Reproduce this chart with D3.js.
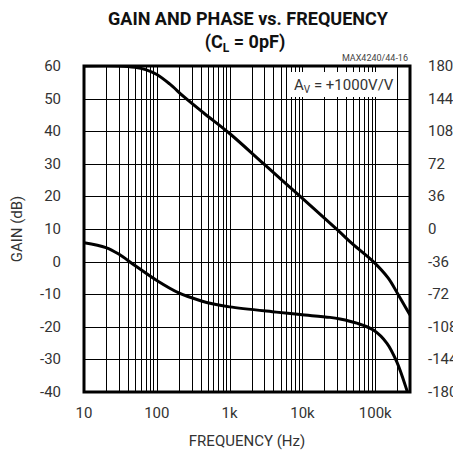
<!DOCTYPE html>
<html>
<head>
<meta charset="utf-8">
<script src="https://cdn.jsdelivr.net/npm/d3@7"></script>
<style>
    body { margin: 0; background: #fff; }
    svg { display: block; font-family: Roboto, "Liberation Sans", sans-serif; }
</style>
</head>
<body>
<svg id="chart" width="453" height="454"></svg>
<script>

//  Data

var gainFreq = [10, 30, 50, 70, 100, 150, 237, 445, 1000, 3000, 10000, 30000, 50000, 94000, 150000, 205000, 300000];
var gainDb   = [60, 60, 59.6, 58.9, 57.4, 54.5, 50.5, 45.5, 39.3, 29.8, 19.4, 9.8, 5.2, 0, -5, -10, -16.4];

var phaseFreq = [10, 20, 30, 50, 100, 200, 400, 600, 1000, 4370, 9270, 23900, 32800, 55700, 94200, 144000, 197000, 271000, 290000];
var phaseDeg  = [-15.1, -20.5, -27.7, -40.3, -56.9, -70.6, -79.2, -82.8, -86, -91.8, -94.5, -97.6, -99.4, -104, -111.6, -126, -146.5, -177.8, -185.4];

var freqTicks = [10, 100, 1000, 10000, 100000];
var freqLabels = ['10', '100', '1k', '10k', '100k'];
var gainTicks = [60, 50, 40, 30, 20, 10, 0, -10, -20, -30, -40];
var phaseTicks = [180, 144, 108, 72, 36, 0, -36, -72, -108, -144, -180];

var svg = d3.select('#chart');

var plot = { left: 84, right: 410, top: 66, bottom: 392 };

//  Scales

var scale = {
    freq: d3.scaleLog().domain([10, 300000]).range([plot.left, plot.right]),
    gain: d3.scaleLinear().domain([-40, 60]).range([plot.bottom, plot.top]),
    phase: d3.scaleLinear().domain([-180, 180]).range([plot.bottom, plot.top])
};

//  Grid: every 1..9 in each decade, every 10dB

var gridFreqs = [];
[10, 100, 1000, 10000, 100000].forEach(function(d) {
    for (var m = 1; m <= 9; m++) {
        if (d * m <= 300000) gridFreqs.push(d * m);
    }
});

var grid = svg.append('g').attr('stroke', '#000').attr('stroke-width', 1).attr('shape-rendering', 'crispEdges');

grid.selectAll('line.v')
    .data(gridFreqs)
    .enter().append('line')
    .attr('class', 'v')
    .attr('x1', function(d) { return Math.round(scale.freq(d)) + 0.5; })
    .attr('x2', function(d) { return Math.round(scale.freq(d)) + 0.5; })
    .attr('y1', plot.top)
    .attr('y2', plot.bottom);

grid.selectAll('line.h')
    .data(gainTicks)
    .enter().append('line')
    .attr('class', 'h')
    .attr('x1', plot.left)
    .attr('x2', plot.right)
    .attr('y1', function(d) { return Math.round(scale.gain(d)) + 0.5; })
    .attr('y2', function(d) { return Math.round(scale.gain(d)) + 0.5; });

//  Label box for the gain setting

svg.append('rect')
    .attr('x', 290).attr('y', 72)
    .attr('width', 104).attr('height', 25)
    .attr('fill', '#fff');

var av = svg.append('text')
    .attr('x', 294).attr('y', 90)
    .attr('font-size', 15)
    .attr('fill', '#333');
av.append('tspan').text('A');
av.append('tspan').attr('font-size', 10).attr('dy', 3).text('V');
av.append('tspan').attr('dy', -3).text(' = +1000V/V');

//  Curves

svg.append('clipPath').attr('id', 'clip')
    .append('rect')
    .attr('x', plot.left).attr('y', plot.top)
    .attr('width', plot.right - plot.left).attr('height', plot.bottom - plot.top);

var gainLine = d3.line()
    .x(function(d, i) { return scale.freq(gainFreq[i]); })
    .y(function(d) { return scale.gain(d); })
    .curve(d3.curveCatmullRom.alpha(0.5));

var phaseLine = d3.line()
    .x(function(d, i) { return scale.freq(phaseFreq[i]); })
    .y(function(d) { return scale.phase(d); })
    .curve(d3.curveCatmullRom.alpha(0.5));

svg.append('path')
    .datum(gainDb)
    .attr('clip-path', 'url(#clip)')
    .attr('fill', 'none').attr('stroke', '#000').attr('stroke-width', 3)
    .attr('d', gainLine);

svg.append('path')
    .datum(phaseDeg)
    .attr('clip-path', 'url(#clip)')
    .attr('fill', 'none').attr('stroke', '#000').attr('stroke-width', 3)
    .attr('d', phaseLine);

//  Frame

svg.append('rect')
    .attr('x', plot.left).attr('y', plot.top)
    .attr('width', plot.right - plot.left).attr('height', plot.bottom - plot.top)
    .attr('fill', 'none').attr('stroke', '#000').attr('stroke-width', 3);

//  Axes labels

svg.append('g').selectAll('text')
    .data(gainTicks)
    .enter().append('text')
    .attr('x', 61)
    .attr('y', function(d) { return scale.gain(d) + 5; })
    .attr('text-anchor', 'end')
    .attr('font-size', 15)
    .attr('fill', '#333')
    .text(function(d) { return d; });

svg.append('g').selectAll('text')
    .data(phaseTicks)
    .enter().append('text')
    .attr('x', 428)
    .attr('y', function(d) { return scale.phase(d) + 5; })
    .attr('font-size', 15)
    .attr('fill', '#333')
    .text(function(d) { return d; });

svg.append('g').selectAll('text')
    .data(freqTicks)
    .enter().append('text')
    .attr('x', function(d) { return scale.freq(d); })
    .attr('y', 418)
    .attr('text-anchor', 'middle')
    .attr('font-size', 15)
    .attr('fill', '#333')
    .text(function(d, i) { return freqLabels[i]; });

svg.append('text')
    .attr('x', 247).attr('y', 446)
    .attr('text-anchor', 'middle')
    .attr('font-size', 15)
    .attr('fill', '#333')
    .text('FREQUENCY (Hz)');

svg.append('text')
    .attr('transform', 'translate(22,229) rotate(-90)')
    .attr('text-anchor', 'middle')
    .attr('font-size', 15)
    .attr('fill', '#333')
    .text('GAIN (dB)');

svg.append('text')
    .attr('x', 408).attr('y', 61)
    .attr('text-anchor', 'end')
    .attr('font-size', 9)
    .attr('fill', '#444')
    .text('MAX4240/44-16');

//  Title

svg.append('text')
    .attr('x', 248).attr('y', 25)
    .attr('text-anchor', 'middle')
    .attr('font-size', 18)
    .attr('font-weight', 'bold')
    .attr('fill', '#111')
    .attr('textLength', 280)
    .attr('lengthAdjust', 'spacingAndGlyphs')
    .text('GAIN AND PHASE vs. FREQUENCY');

var sub = svg.append('text')
    .attr('x', 245).attr('y', 48)
    .attr('text-anchor', 'middle')
    .attr('font-size', 18)
    .attr('font-weight', 'bold')
    .attr('fill', '#111');
sub.append('tspan').text('(C');
sub.append('tspan').attr('font-size', 12).attr('dy', 4).text('L');
sub.append('tspan').attr('dy', -4).text(' = 0pF)');

</script>
</body>
</html>
